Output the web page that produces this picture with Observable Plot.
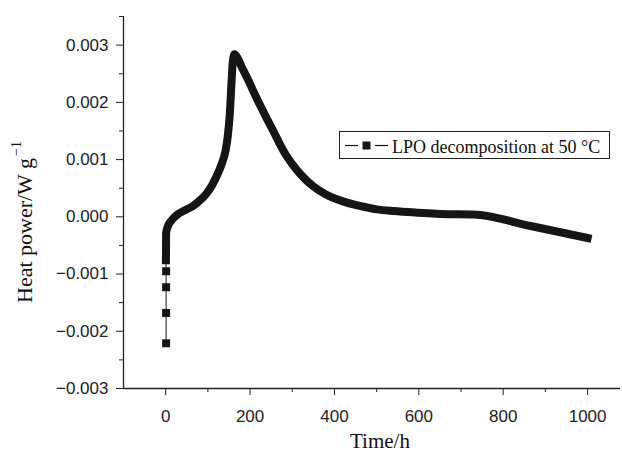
<!DOCTYPE html>
<html>
<head>
<meta charset="utf-8">
<script src="https://cdn.jsdelivr.net/npm/d3@7"></script>
<script src="https://cdn.jsdelivr.net/npm/@observablehq/plot@0.6"></script>
<style>
  html, body { margin: 0; padding: 0; background: #fff; }
  #chart { width: 622px; height: 452px; }
</style>
</head>
<body>
<div id="chart"></div>
<script>
// ---- data ----
const seriesName = "LPO decomposition at 50 °C";
const xLabel = "Time/h";
const yLabelMain = "Heat power/W g";
const yLabelSup = "\u22121";

// isolated first measurements (t ≈ 0)
const tInit = [1, 1, 1, 1];
const vInit = [-0.00221, -0.00168, -0.00123, -0.000951];

// dense part of the record (appears as a thick band of markers)
const tCurve = [0.6, 0.8, 1, 5, 14, 26, 47, 65, 80, 95, 110, 125, 135, 142, 147, 152, 156, 159, 163,
                170, 180, 195, 210, 225, 240, 255, 270, 285, 300, 320, 350, 380, 420, 460, 500, 540, 600, 650, 730, 865, 1000];
const vCurve = [-0.00076, -0.0005, -0.00028, -0.00017, -0.00006, 0.00003, 0.00012, 0.00019, 0.00028, 0.00039, 0.00055, 0.00078, 0.00097, 0.00116, 0.0014, 0.0018, 0.00235, 0.0027, 0.00284,
                0.00278, 0.00262, 0.0024, 0.00216, 0.00193, 0.00171, 0.0015, 0.00128, 0.00108, 0.00092, 0.00074, 0.00053, 0.00039, 0.00027, 0.00019, 0.00013, 0.0001, 0.00007, 0.00005, 0.00004, -0.00016, -0.00037];

const xDomain = [-100, 1078];
const yDomain = [-0.003, 0.0035];
const xMajor = [0, 200, 400, 600, 800, 1000];
const xMinor = [100, 300, 500, 700, 900];
const yMajor = [-0.003, -0.002, -0.001, 0, 0.001, 0.002, 0.003];
const yMinor = [-0.0025, -0.0015, -0.0005, 0.0005, 0.0015, 0.0025, 0.0035];

// ---- build tables ----
const init = tInit.map((t, i) => ({t, v: vInit[i]}));
const curve = tCurve.map((t, i) => ({t, v: vCurve[i]}));
const thin = init.concat([curve[0]]);

const ink = "#151515";
const axisInk = "#222";

const plot = Plot.plot({
  width: 622,
  height: 452,
  marginLeft: 123,
  marginRight: 2,
  marginTop: 16,
  marginBottom: 64,
  x: {domain: xDomain},
  y: {domain: yDomain},
  style: {fontFamily: "'Liberation Sans', Arial, sans-serif", fontSize: "17px", color: axisInk, background: "#fff", overflow: "visible"},
  marks: [
    Plot.ruleX([xDomain[0]], {stroke: axisInk, strokeWidth: 1.3}),
    Plot.ruleY([yDomain[0]], {stroke: axisInk, strokeWidth: 1.3}),
    Plot.axisY(yMajor, {tickSize: 7, tickPadding: 8, tickFormat: d3.format(".3f"), label: null, fontSize: 17, stroke: axisInk, fill: axisInk}),
    Plot.axisY(yMinor, {tickSize: 4, tickFormat: () => "", label: null, stroke: axisInk}),
    Plot.axisX(xMajor, {tickSize: 7, tickPadding: 14, tickFormat: d3.format("d"), label: null, fontSize: 17, stroke: axisInk, fill: axisInk}),
    Plot.axisX(xMinor, {tickSize: 4, tickFormat: () => "", label: null, stroke: axisInk}),
    Plot.line(thin, {x: "t", y: "v", stroke: ink, strokeWidth: 1}),
    Plot.dot(init, {x: "t", y: "v", symbol: "square", r: 4.5, fill: ink, stroke: null}),
    Plot.line(curve, {x: "t", y: "v", stroke: ink, strokeWidth: 8, curve: "monotone-x", strokeLinecap: "square", strokeLinejoin: "round"})
  ]
});

document.getElementById("chart").appendChild(plot);

// ---- axis titles and legend ----
const svg = d3.select(plot);
const serif = "'Liberation Serif', 'Times New Roman', serif";

svg.append("text")
  .attr("x", 380).attr("y", 448)
  .attr("text-anchor", "middle")
  .attr("font-family", serif).attr("font-size", 21).attr("fill", "#111")
  .text(xLabel);

const yl = svg.append("text")
  .attr("transform", "translate(32,303) rotate(-90)")
  .attr("text-anchor", "start")
  .attr("font-family", serif).attr("font-size", 22).attr("fill", "#111");
yl.append("tspan").text(yLabelMain);
yl.append("tspan").attr("dx", 2).attr("dy", -11).attr("font-size", 14).text(yLabelSup);

const lg = svg.append("g");
lg.append("rect").attr("x", 339.5).attr("y", 131.5).attr("width", 270).attr("height", 27)
  .attr("fill", "#fff").attr("stroke", "#222").attr("stroke-width", 1);
lg.append("line").attr("x1", 345).attr("x2", 358).attr("y1", 145.5).attr("y2", 145.5)
  .attr("stroke", ink).attr("stroke-width", 1.2);
lg.append("line").attr("x1", 375).attr("x2", 388).attr("y1", 145.5).attr("y2", 145.5)
  .attr("stroke", ink).attr("stroke-width", 1.2);
lg.append("rect").attr("x", 362.5).attr("y", 141.5).attr("width", 8).attr("height", 8).attr("fill", ink);
lg.append("text").attr("x", 392).attr("y", 153)
  .attr("text-anchor", "start")
  .attr("font-family", serif).attr("font-size", 18).attr("fill", "#111")
  .text(seriesName);
</script>
</body>
</html>
